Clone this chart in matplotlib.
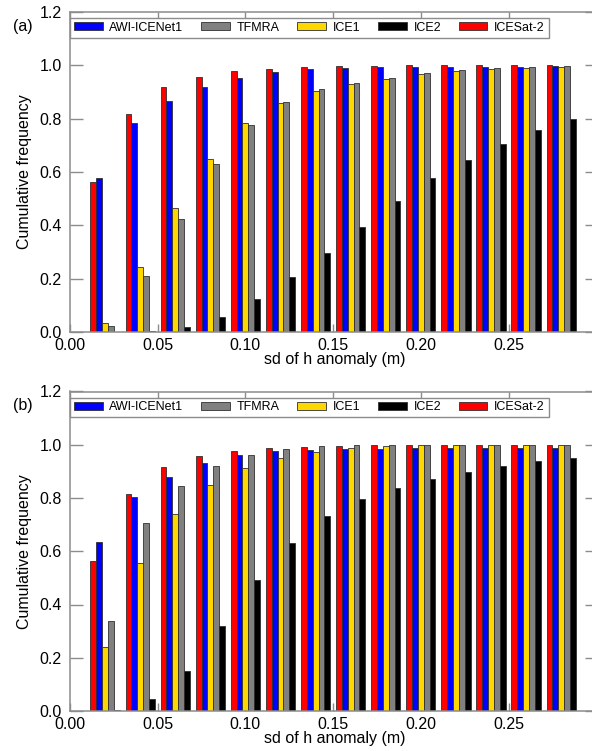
import numpy as np
import matplotlib
matplotlib.use("Agg")
import matplotlib.pyplot as plt

plt.rcParams['font.family'] = ['Liberation Sans', 'DejaVu Sans']

# bin centres of the sd of h anomaly (m)
bins = [0.02, 0.04, 0.06, 0.08, 0.10, 0.12, 0.14, 0.16, 0.18, 0.20, 0.22, 0.24, 0.26, 0.28]

# reference: ICESat-2
icesat2 = [0.5625, 0.816, 0.918, 0.956, 0.9775, 0.988, 0.993, 0.997, 0.999, 0.9995, 0.9997, 0.9998, 1.0, 1.0]

# (a)
awi_a = [0.5775, 0.7825, 0.865, 0.9175, 0.9535, 0.974, 0.985, 0.991, 0.994, 0.995, 0.995, 0.995, 0.995, 0.996]
tfmra_a = [0.024, 0.209, 0.424, 0.630, 0.775, 0.861, 0.910, 0.934, 0.952, 0.970, 0.981, 0.989, 0.992, 0.996]
ice1_a = [0.035, 0.245, 0.465, 0.649, 0.7825, 0.8575, 0.904, 0.929, 0.949, 0.966, 0.977, 0.986, 0.989, 0.994]
ice2_a = [0.0, 0.002, 0.0175, 0.057, 0.124, 0.206, 0.297, 0.394, 0.491, 0.577, 0.645, 0.705, 0.757, 0.800]

# (b)
awi_b = [0.635, 0.8025, 0.880, 0.9325, 0.9625, 0.9765, 0.981, 0.984, 0.985, 0.987, 0.987, 0.987, 0.987, 0.987]
tfmra_b = [0.337, 0.706, 0.845, 0.919, 0.960, 0.984, 0.994, 1.0, 1.0, 1.0, 1.0, 1.0, 1.0, 1.0]
ice1_b = [0.239, 0.555, 0.740, 0.850, 0.9125, 0.949, 0.9725, 0.9865, 0.994, 0.998, 1.0, 1.0, 1.0, 1.0]
ice2_b = [0.003, 0.044, 0.151, 0.318, 0.491, 0.630, 0.732, 0.796, 0.8375, 0.870, 0.896, 0.919, 0.938, 0.951]

labels = ["AWI-ICENet1", "TFMRA", "ICE1", "ICE2", "ICESat-2"]
colors = {"AWI-ICENet1": "#0000ff", "TFMRA": "#808080", "ICE1": "#ffd700",
          "ICE2": "#000000", "ICESat-2": "#ff0000"}
# order of the bars inside each group, left to right
bar_order = ["ICESat-2", "AWI-ICENet1", "ICE1", "TFMRA", "ICE2"]

W, H = 592, 751
fig = plt.figure(figsize=(W / 100, H / 100), dpi=100)

border = "#8c8c8c"
width = 0.02 / 6


def panel(top_px, bottom_px, series, tag):
    ax = fig.add_axes([70 / W, 1 - bottom_px / H, 528 / W, (bottom_px - top_px) / H])
    x = np.array(bins)
    handles = {}
    for i, name in enumerate(bar_order):
        b = ax.bar(x + (i - 2) * width, series[name], width=width, color=colors[name],
                   edgecolor="#303030", linewidth=0.6, label=name, zorder=2)
        handles[name] = b
    ax.set_xlim(0, 0.301)
    ax.set_ylim(0, 1.2)
    ax.set_xticks([0.0, 0.05, 0.10, 0.15, 0.20, 0.25])
    ax.set_xticklabels(["%.2f" % v for v in [0.0, 0.05, 0.10, 0.15, 0.20, 0.25]])
    ax.set_yticks(np.arange(0, 1.21, 0.2))
    ax.set_yticklabels(["%.1f" % v for v in np.arange(0, 1.21, 0.2)])
    ax.tick_params(axis='x', direction='in', length=5.5, width=1.0, color=border,
                   top=True, labelsize=11.5, pad=4)
    ax.tick_params(axis='y', direction='in', length=9.4, width=1.0, color=border,
                   right=True, labelsize=11.5, pad=6)
    for s in ax.spines.values():
        s.set_color(border)
        s.set_linewidth(1.1)
    ax.set_xlabel("sd of h anomaly (m)", fontsize=11.5)
    ax.xaxis.set_label_coords(0.502, -0.062)
    ax.xaxis.label.set_va('top')
    ax.set_ylabel("Cumulative frequency", fontsize=11.5)
    ax.yaxis.set_label_coords(-0.072, 0.5)
    leg = ax.legend([handles[n] for n in labels], labels, loc='upper left',
                    bbox_to_anchor=(0, 1 - 6 / (bottom_px - top_px)), borderaxespad=0,
                    ncol=5, fontsize=9, handlelength=2.3, handleheight=0.6,
                    handletextpad=0.55, columnspacing=1.4, borderpad=0.3,
                    fancybox=False, framealpha=1, edgecolor=border)
    leg.get_frame().set_linewidth(1.0)
    fig.text(23 / W, 1 - (top_px + 14) / H, tag, fontsize=11.5, ha='center', va='center')
    return ax


panel(12, 332, {"ICESat-2": icesat2, "AWI-ICENet1": awi_a, "TFMRA": tfmra_a,
                "ICE1": ice1_a, "ICE2": ice2_a}, "(a)")
panel(391.5, 711, {"ICESat-2": icesat2, "AWI-ICENet1": awi_b, "TFMRA": tfmra_b,
                   "ICE1": ice1_b, "ICE2": ice2_b}, "(b)")

fig.savefig("out.png", dpi=100)
